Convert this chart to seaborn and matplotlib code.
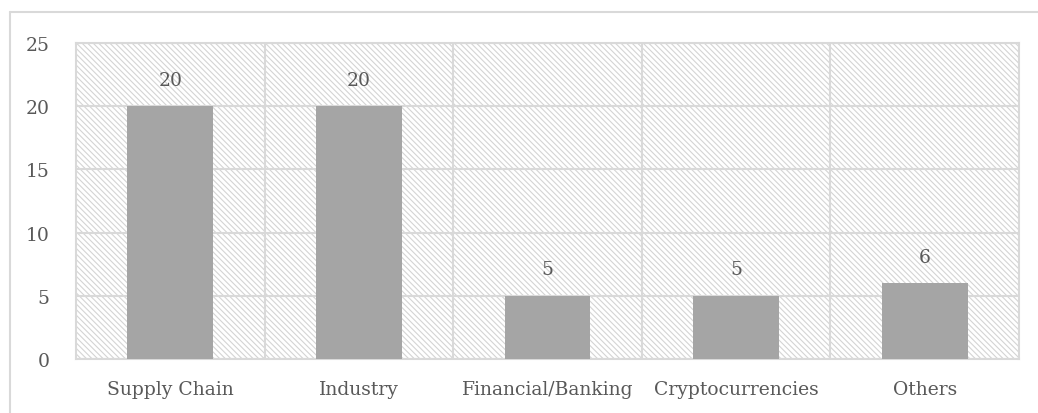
import matplotlib
matplotlib.use('Agg')
from matplotlib import pyplot as plt
from matplotlib.patches import Rectangle
from matplotlib.lines import Line2D
import seaborn as sns
import pandas as pd

categories = ['Supply Chain', 'Industry', 'Financial/Banking', 'Cryptocurrencies', 'Others']
counts = [20, 20, 5, 5, 6]
y_ticks = [0, 5, 10, 15, 20, 25]

sns.set_style('white')
plt.rcParams['font.family'] = ['DejaVu Serif']
plt.rcParams['hatch.color'] = '#d4d4d4'
plt.rcParams['hatch.linewidth'] = 0.8

text_color = '#595959'
grid_color = '#d9d9d9'
fsize = 13.5

df = pd.DataFrame({'category': categories, 'count': counts})

fig = plt.figure(figsize=(10.38, 4.14), dpi=100)
ax = fig.add_axes([76 / 1038, 1 - 360 / 414, (1019 - 76) / 1038, (360 - 44) / 414])

# hatched plot-area background
ax.add_patch(Rectangle((0, 0), 1, 1, transform=ax.transAxes, facecolor='white',
                       edgecolor='#d4d4d4', hatch='\\\\\\\\\\\\', linewidth=0, zorder=0))

sns.barplot(data=df, x='category', y='count', color='#a5a5a5', saturation=1,
            width=0.455, linewidth=0, ax=ax, zorder=3)

ax.set_ylim(0, 25)
ax.set_xlim(-0.5, len(categories) - 0.5)
ax.set_yticks(y_ticks)
ax.set_xticks([i + 0.5 for i in range(len(categories) - 1)], minor=True)
ax.grid(True, axis='y', which='major', color=grid_color, linewidth=1.5, zorder=1)
ax.grid(True, axis='x', which='minor', color=grid_color, linewidth=1.5, zorder=1)
ax.grid(False, axis='x', which='major')
ax.set_axisbelow(False)
for s in ax.spines.values():
    s.set_visible(True)
    s.set_color(grid_color)
    s.set_linewidth(1.5)
    s.set_zorder(1)

ax.tick_params(axis='both', which='both', length=0, labelsize=fsize, colors=text_color)
ax.tick_params(axis='y', pad=19)
ax.tick_params(axis='x', pad=15)
ax.set_xlabel('')
ax.set_ylabel('')

for i, v in enumerate(counts):
    ax.text(i, v + 2.1, str(v), ha='center', va='center', fontsize=fsize, color=text_color)

# outer chart frame
fig.add_artist(Line2D([10 / 1038, 10 / 1038], [0, 1 - 13 / 414], transform=fig.transFigure,
                      color=grid_color, linewidth=1.5))
fig.add_artist(Line2D([10 / 1038, 1], [1 - 13 / 414, 1 - 13 / 414], transform=fig.transFigure,
                      color=grid_color, linewidth=1.5))

fig.savefig('out.png', dpi=100)
